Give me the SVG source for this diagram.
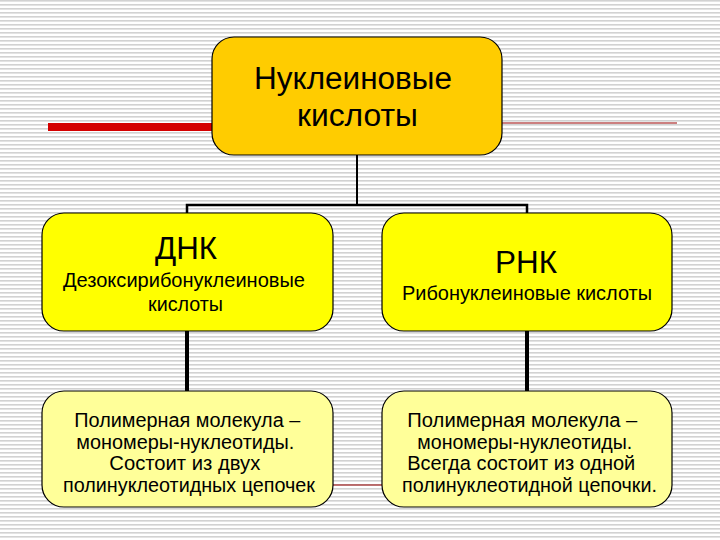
<svg xmlns="http://www.w3.org/2000/svg" width="720" height="540" viewBox="0 0 720 540">
<defs>
<pattern id="stripes" width="8" height="4" patternUnits="userSpaceOnUse">
<rect width="8" height="4" fill="#ffffff"/>
<rect y="0" width="8" height="1.6" fill="#d2d2d2"/>
</pattern>
<style>
.node{stroke:#000;stroke-width:1.2}
.t{font-family:"Liberation Sans",Arial,sans-serif;fill:#000;text-anchor:middle}
.conn{stroke:#000;fill:none}
</style>
</defs>
<rect width="720" height="540" fill="url(#stripes)"/>
<g id="decor">
<rect x="48" y="123" width="166" height="8" fill="#d40000"/>
<line x1="502" y1="123" x2="677" y2="123" stroke="#990000" stroke-width="1.2"/>
<line x1="333" y1="485" x2="382" y2="485" stroke="#990000" stroke-width="1.2"/>
</g>
<g id="connectors">
<polyline class="conn" stroke-width="2" points="357,155 357,205"/>
<polyline class="conn" stroke-width="2.5" points="187,213 187,205 527,205 527,213"/>
<line class="conn" stroke-width="4" x1="187" y1="331" x2="187" y2="391"/>
<line class="conn" stroke-width="4" x1="527" y1="331" x2="527" y2="391"/>
</g>
<g id="node-root">
<rect class="node" x="212" y="37" width="290" height="118" rx="22" fill="#ffcc00"/>
<text class="t" x="353" y="89" font-size="31" textLength="198" lengthAdjust="spacingAndGlyphs">Нуклеиновые</text>
<text class="t" x="357.5" y="126" font-size="31" textLength="121" lengthAdjust="spacingAndGlyphs">кислоты</text>
</g>
<g id="node-dnk">
<rect class="node" x="42" y="213" width="291" height="118" rx="22" fill="#ffff00"/>
<text class="t" x="186" y="259" font-size="31" textLength="62" lengthAdjust="spacingAndGlyphs">ДНК</text>
<text class="t" x="184" y="287" font-size="19.5" textLength="242" lengthAdjust="spacingAndGlyphs">Дезоксирибонуклеиновые</text>
<text class="t" x="185.5" y="311" font-size="19.5" textLength="75" lengthAdjust="spacingAndGlyphs">кислоты</text>
</g>
<g id="node-rnk">
<rect class="node" x="382" y="213" width="290" height="118" rx="22" fill="#ffff00"/>
<text class="t" x="526" y="273" font-size="32" textLength="62" lengthAdjust="spacingAndGlyphs">РНК</text>
<text class="t" x="527" y="300" font-size="19.5" textLength="250" lengthAdjust="spacingAndGlyphs">Рибонуклеиновые кислоты</text>
</g>
<g id="node-dnk-desc">
<rect class="node" x="42" y="391" width="291" height="116" rx="22" fill="#ffff99"/>
<text class="t" font-size="19.5" lengthAdjust="spacingAndGlyphs">
<tspan x="190" y="427" textLength="226" lengthAdjust="spacingAndGlyphs">Полимерная молекула –</tspan>
<tspan x="188" y="449" textLength="218" lengthAdjust="spacingAndGlyphs">мономеры-нуклеотиды.</tspan>
<tspan x="187.5" y="470" textLength="151" lengthAdjust="spacingAndGlyphs">Состоит из двух</tspan>
<tspan x="189" y="492" textLength="252" lengthAdjust="spacingAndGlyphs">полинуклеотидных цепочек</tspan>
</text>
</g>
<g id="node-rnk-desc">
<rect class="node" x="382" y="391" width="290" height="116" rx="22" fill="#ffff99"/>
<text class="t" font-size="19.5">
<tspan x="525" y="427" textLength="230" lengthAdjust="spacingAndGlyphs">Полимерная молекула –</tspan>
<tspan x="527.5" y="449" textLength="215" lengthAdjust="spacingAndGlyphs">мономеры-нуклеотиды.</tspan>
<tspan x="524" y="470" textLength="228" lengthAdjust="spacingAndGlyphs">Всегда состоит из одной</tspan>
<tspan x="529.5" y="492" textLength="255" lengthAdjust="spacingAndGlyphs">полинуклеотидной цепочки.</tspan>
</text>
</g>
</svg>
